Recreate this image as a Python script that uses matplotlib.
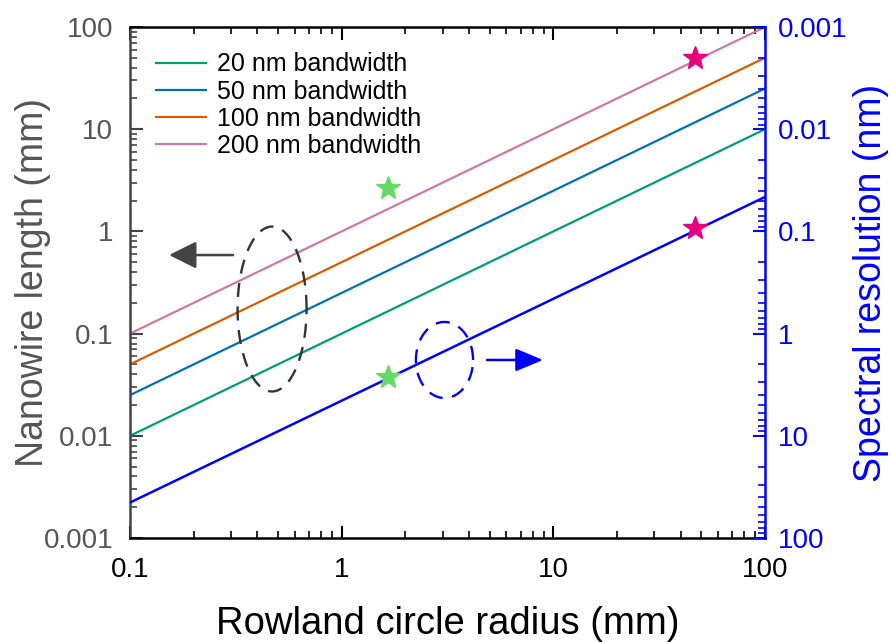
import numpy as np
import matplotlib
matplotlib.use("Agg")
import matplotlib.pyplot as plt
from matplotlib.ticker import LogLocator, FuncFormatter

plt.rcParams['font.family'] = ['Liberation Sans', 'DejaVu Sans']

# ---- data ----
radius = [0.1, 100]                      # Rowland circle radius (mm)
bandwidths = ["20 nm bandwidth", "50 nm bandwidth", "100 nm bandwidth", "200 nm bandwidth"]
length_20 = [0.01, 10]
length_50 = [0.025, 25]
length_100 = [0.05, 50]
length_200 = [0.1, 100]
resolution = [45, 0.046]                 # spectral resolution (nm), right axis

star_green_x = [1.66, 1.66]
star_green_left = [2.66]
star_green_right = [2.66]                # nm
star_mag_x = [46.7, 46.7]
star_mag_left = [49.8]
star_mag_right = [0.093]                 # nm

colors = ["#009E73", "#0072B2", "#D55E00", "#CC79A7"]
gray = "#555555"
blue = "#0000FF"

fig = plt.figure(figsize=(8.91, 6.42), dpi=100)
ax = fig.add_axes([130/891, 1-538/642, 635/891, 511/642])
ax2 = ax.twinx()

for ys, c, lab in zip([length_20, length_50, length_100, length_200], colors, bandwidths):
    ax.plot(radius, ys, color=c, lw=1.6, label=lab)

ax.set_xscale('log'); ax.set_yscale('log')
ax.set_xlim(0.1, 100); ax.set_ylim(0.001, 100)

ax2.plot(radius, resolution, color=blue, lw=1.8)
ax2.set_yscale('log')
ax2.set_ylim(100, 0.001)

# stars
ax.plot(star_green_x[:1], star_green_left, marker='*', ms=18, color='#66D966', ls='none', zorder=5)
ax2.plot(star_green_x[1:], star_green_right, marker='*', ms=18, color='#66D966', ls='none', zorder=5)
ax.plot(star_mag_x[:1], star_mag_left, marker='*', ms=18, color='#E6007E', ls='none', zorder=5)
ax2.plot(star_mag_x[1:], star_mag_right, marker='*', ms=18, color='#E6007E', ls='none', zorder=5)

# ellipses in log space
def log_ellipse(a, cx, cy, ax_dec, ay_dec, color):
    t = np.linspace(0, 2*np.pi, 300)
    xs = 10**(np.log10(cx) + ax_dec*np.cos(t))
    ys = 10**(np.log10(cy) + ay_dec*np.sin(t))
    a.plot(xs, ys, color=color, lw=1.7, ls=(0, (6, 4)))

log_ellipse(ax, 0.469, 0.174, 0.163, 0.807, "#333333")
log_ellipse(ax, 3.06, 0.0552, 0.135, 0.372, blue)

ax.annotate("", xy=(0.153, 0.587), xytext=(0.307, 0.587),
            arrowprops=dict(arrowstyle="-|>,head_length=0.6,head_width=0.3", color="#444444",
                            lw=1.8, mutation_scale=28, shrinkA=0, shrinkB=0))
ax.annotate("", xy=(8.94, 0.0552), xytext=(4.86, 0.0552),
            arrowprops=dict(arrowstyle="-|>,head_length=0.6,head_width=0.25", color=blue,
                            lw=1.8, mutation_scale=28, shrinkA=0, shrinkB=0))

# ticks & spines
ax.tick_params(axis='both', which='major', direction='in', length=9, width=1.5, labelsize=20)
ax.tick_params(axis='both', which='minor', direction='in', length=5, width=1.2)
ax.tick_params(axis='x', top=True, which='both', colors='black', pad=14)
ax.tick_params(axis='y', which='both', colors='#444444', labelcolor=gray, pad=12)
ax2.tick_params(axis='y', which='major', direction='in', length=9, width=1.5, labelsize=20,
                colors=blue, labelcolor=blue, pad=9)
ax2.tick_params(axis='y', which='minor', direction='in', length=5, width=1.2, colors=blue)

for s in ['top', 'bottom']:
    ax.spines[s].set_color('black'); ax.spines[s].set_linewidth(1.8)
    ax2.spines[s].set_visible(False)
ax.spines['left'].set_color('#444444'); ax.spines['left'].set_linewidth(1.8)
ax.spines['right'].set_visible(False)
ax2.spines['left'].set_visible(False)
ax2.spines['right'].set_color(blue); ax2.spines['right'].set_linewidth(1.8)

fmt = FuncFormatter(lambda v, p: ('%g' % v))
ax.xaxis.set_major_formatter(fmt)
ax.yaxis.set_major_formatter(fmt)
ax2.yaxis.set_major_formatter(fmt)
for a_ in (ax.xaxis, ax.yaxis, ax2.yaxis):
    a_.set_major_locator(LogLocator(base=10, numticks=20))
    a_.set_minor_locator(LogLocator(base=10, subs=np.arange(2, 10), numticks=20))

ax.set_xlabel("Rowland circle radius (mm)", fontsize=27.5, labelpad=16)
ax.set_ylabel("Nanowire length (mm)", fontsize=27, color=gray)
ax2.set_ylabel("Spectral resolution (nm)", fontsize=27, color=blue)
ax.yaxis.set_label_coords(-0.124, 0.5)
ax2.yaxis.set_label_coords(1.138, 0.5)

ax.legend(loc='upper left', bbox_to_anchor=(0.025, 0.97), frameon=False, fontsize=18,
          handlelength=2.0, handletextpad=0.45, labelspacing=0.13, borderaxespad=0)

fig.savefig("out.png", dpi=100)
